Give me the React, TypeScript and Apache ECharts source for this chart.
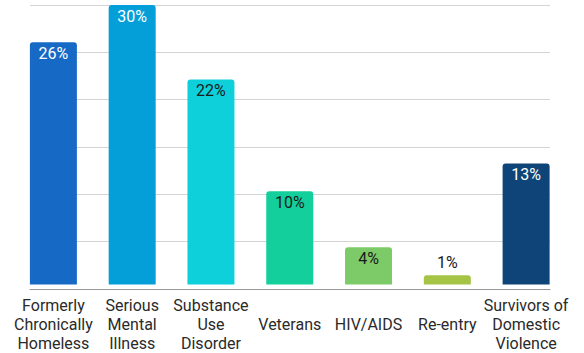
import React, { useEffect, useRef } from "react";
import * as echarts from "echarts";

const categories = [
  "Formerly\nChronically\nHomeless",
  "Serious\nMental\nIllness",
  "Substance\nUse\nDisorder",
  "Veterans",
  "HIV/AIDS",
  "Re-entry",
  "Survivors of\nDomestic\nViolence",
];
const values = [26, 30, 22, 10, 4, 1, 13];
const barColors = ["#1769C6", "#049FD9", "#0DD0DB", "#13CF9C", "#7DCB68", "#A5C446", "#0E4477"];
const labelColors = ["#ffffff", "#ffffff", "#1a1a1a", "#1a1a1a", "#1a1a1a", "#1a1a1a", "#ffffff"];
const yTicks = [0, 5, 10, 15, 20, 25, 30];

export default function App() {
  const ref = useRef<HTMLDivElement>(null);
  useEffect(() => {
    if (!ref.current) return;
    const chart = echarts.init(ref.current, undefined, { renderer: "svg" });
    chart.setOption({
      animation: false,
      backgroundColor: "#ffffff",
      textStyle: { fontFamily: "Roboto" },
      grid: [
        { left: 30, right: 34, top: 5, bottom: 64 },
        { left: 14, right: 18.5, top: 5, bottom: 64 },
      ],
      xAxis: [
        {
          gridIndex: 0,
          type: "category",
          data: categories,
          axisLine: { show: true, lineStyle: { color: "#999999", width: 1 } },
          axisTick: { show: false },
          axisLabel: { show: false },
          splitLine: { show: false },
        },
        {
          gridIndex: 1,
          type: "category",
          data: categories,
          axisLine: { show: false },
          axisTick: { show: false },
          axisLabel: {
            show: true,
            interval: 0,
            color: "#2a2a2a",
            fontSize: 16,
            fontFamily: "Roboto",
            lineHeight: 19,
            verticalAlign: "middle",
            margin: 40,
          },
          splitLine: { show: false },
        },
      ],
      yAxis: [
        {
          gridIndex: 0,
          type: "value",
          min: yTicks[0],
          max: yTicks[yTicks.length - 1],
          interval: 5,
          axisLine: { show: false },
          axisTick: { show: false },
          axisLabel: { show: false },
          splitLine: { show: true, lineStyle: { color: "#d4d4d4", width: 1 } },
        },
        {
          gridIndex: 1,
          type: "value",
          min: yTicks[0],
          max: yTicks[yTicks.length - 1],
          interval: 5,
          show: false,
          splitLine: { show: false },
        },
      ],
      series: [
        {
          type: "bar",
          xAxisIndex: 1,
          yAxisIndex: 1,
          barWidth: 47,
          data: values.map((v, i) => ({
            value: v,
            itemStyle: { color: barColors[i], borderRadius: [3, 3, 0, 0] },
            label: {
              show: true,
              position: v < 3 ? "top" : "insideTop",
              distance: v < 3 ? 5 : 3,
              formatter: "{c}%",
              color: labelColors[i],
              fontSize: 16,
              fontFamily: "Roboto",
            },
          })),
        },
      ],
    });
    return () => chart.dispose();
  }, []);
  return (
    <div
      ref={ref}
      style={{ position: "fixed", left: 0, top: 0, width: 584, height: 353 }}
    />
  );
}
